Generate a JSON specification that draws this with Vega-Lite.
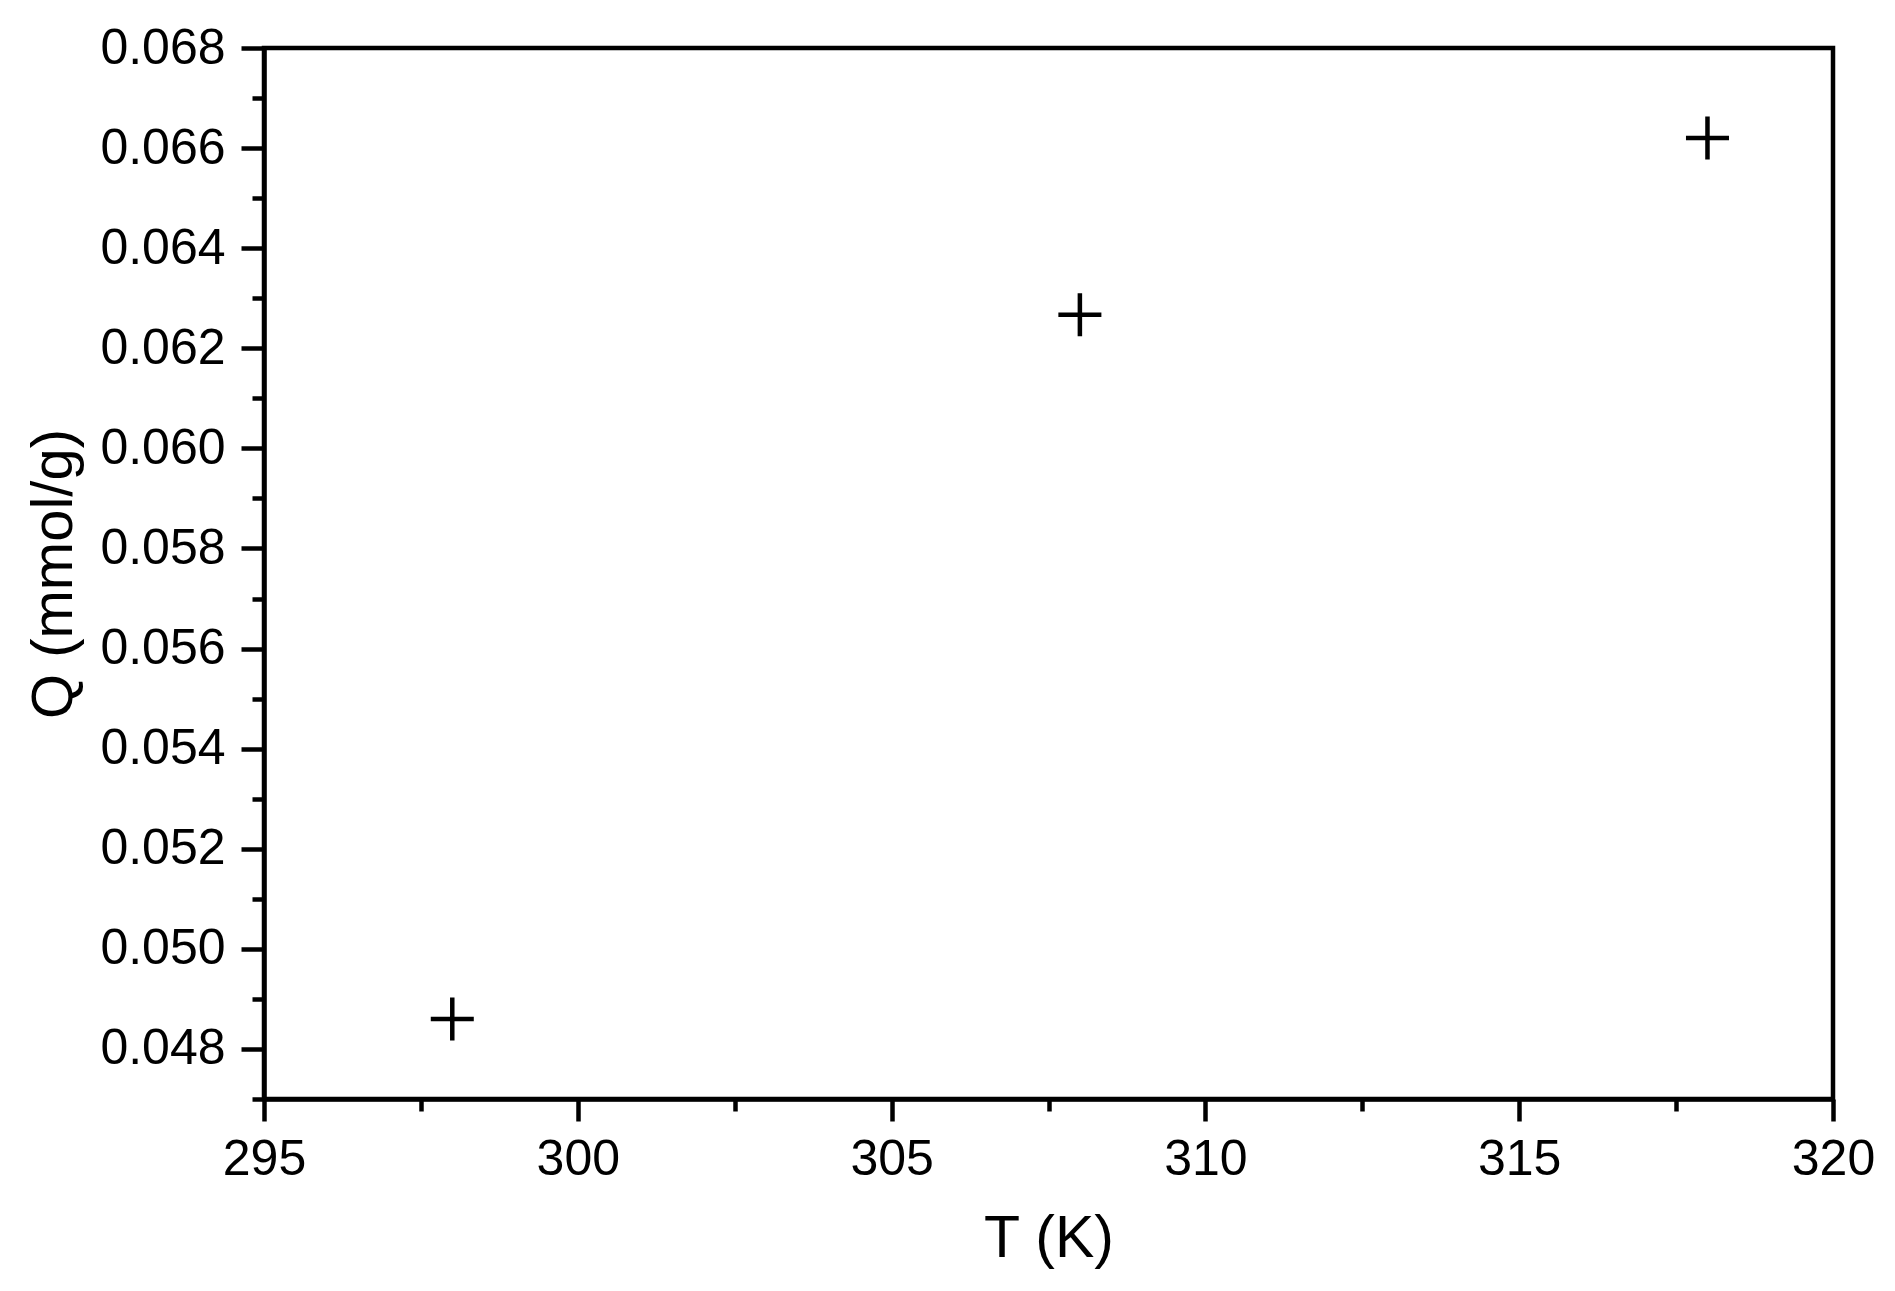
{
  "$schema": "https://vega.github.io/schema/vega-lite/v6.json",
  "autosize": "none",
  "width": 1569,
  "height": 1051,
  "padding": {"left": 264, "top": 48, "right": 62, "bottom": 192},
  "background": "white",
  "config": {
    "view": {"stroke": "black", "strokeWidth": 4.5},
    "font": "Liberation Sans",
    "axis": {
      "domainColor": "black",
      "domainWidth": 4.5,
      "tickColor": "black",
      "tickWidth": 4.5,
      "grid": false,
      "labelColor": "black",
      "titleColor": "black",
      "labelFont": "Liberation Sans",
      "titleFont": "Liberation Sans",
      "titleFontWeight": "normal"
    }
  },
  "data": {
    "values": [
      {"T": 298, "Q": 0.0486},
      {"T": 308, "Q": 0.06267},
      {"T": 318, "Q": 0.0662}
    ]
  },
  "resolve": {"axis": {"x": "independent", "y": "independent"}},
  "layer": [
    {
      "mark": {"type": "point", "shape": "M-1,0H1M0,-1V1", "filled": false, "stroke": "black", "strokeWidth": 4.5, "size": 1850, "opacity": 1},
      "encoding": {
        "x": {
          "field": "T", "type": "quantitative",
          "scale": {"domain": [295, 320], "nice": false, "zero": false},
          "axis": {
            "orient": "bottom",
            "values": [295, 300, 305, 310, 315, 320],
            "format": "d",
            "tickSize": 22,
            "labelFontSize": 50,
            "labelPadding": 13,
            "labelFlush": false,
            "title": "T (K)",
            "titleFontSize": 59,
            "titlePadding": 25
          }
        },
        "y": {
          "field": "Q", "type": "quantitative",
          "scale": {"domain": [0.047, 0.068], "nice": false, "zero": false},
          "axis": {
            "orient": "left",
            "values": [0.048, 0.05, 0.052, 0.054, 0.056, 0.058, 0.06, 0.062, 0.064, 0.066, 0.068],
            "format": ".3f",
            "tickSize": 23,
            "labelFontSize": 50,
            "labelPadding": 16,
            "labelFlush": false,
            "title": "Q (mmol/g)",
            "titleFontSize": 58,
            "titlePadding": 16
          }
        }
      }
    },
    {
      "mark": {"type": "point", "opacity": 0},
      "encoding": {
        "x": {
          "field": "T", "type": "quantitative",
          "axis": {
            "orient": "bottom",
            "values": [297.5, 302.5, 307.5, 312.5, 317.5],
            "tickSize": 12,
            "labels": false,
            "domain": false,
            "title": null
          }
        },
        "y": {
          "field": "Q", "type": "quantitative",
          "axis": {
            "orient": "left",
            "values": [0.047, 0.049, 0.051, 0.053, 0.055, 0.057, 0.059, 0.061, 0.063, 0.065, 0.067],
            "tickSize": 12,
            "labels": false,
            "domain": false,
            "title": null
          }
        }
      }
    }
  ]
}
